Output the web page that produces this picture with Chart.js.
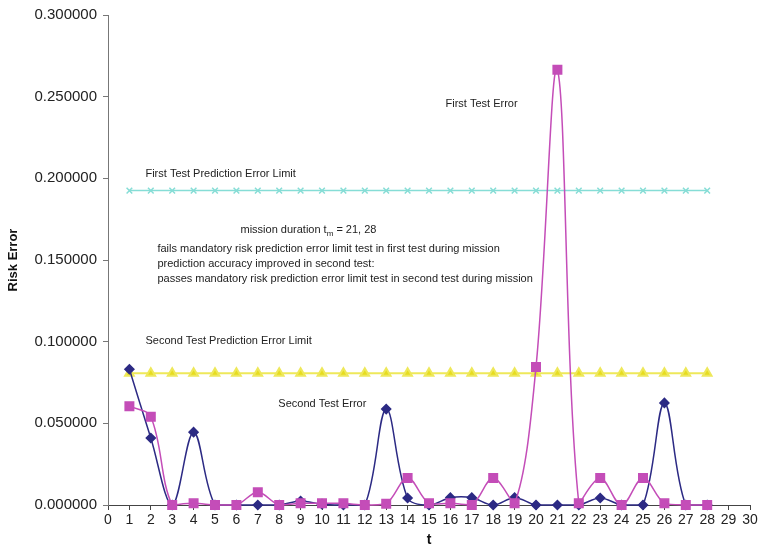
<!DOCTYPE html>
<html>
<head>
<meta charset="utf-8">
<script src="https://cdn.jsdelivr.net/npm/chart.js@4.4.1/dist/chart.umd.min.js"></script>
<style>
  html, body { margin: 0; padding: 0; background: #ffffff; }
  #wrap { width: 760px; height: 550px; }
</style>
</head>
<body>
<div id="wrap"><canvas id="riskChart" width="760" height="550"></canvas></div>
<script>
// time steps t = 1..28
const steps = [1, 2, 3, 4, 5, 6, 7, 8, 9, 10, 11, 12, 13, 14, 15, 16, 17, 18, 19, 20, 21, 22, 23, 24, 25, 26, 27, 28];

const firstTestError = [0.0605, 0.054, 0, 0.001, 0, 0, 0.0078, 0, 0.001, 0.001, 0.001, 0, 0.0008, 0.0165,
  0.001, 0.001, 0, 0.0165, 0.001, 0.0845, 0.2665, 0.001, 0.0165, 0, 0.0165, 0.001, 0, 0];

const secondTestError = [0.0831, 0.041, 0, 0.0446, 0, 0, 0, 0, 0.0024, 0.0005, 0, 0, 0.0587, 0.0043,
  0, 0.0045, 0.0045, 0, 0.0045, 0, 0, 0, 0.0043, 0, 0, 0.0625, 0, 0];

const firstLimit = 0.1925;
const secondLimit = 0.0807;

const yTicks = [0, 0.05, 0.1, 0.15, 0.2, 0.25, 0.3];

// text notes placed in data units (t, risk error)
const notes = [
  { t: 15.77, v: 0.2457, text: "First Test Error" },
  { t: 1.75, v: 0.2027, text: "First Test Prediction Error Limit" },
  { t: 2.31, v: 0.1568, text: "fails mandatory risk prediction error limit test in first test during mission" },
  { t: 2.31, v: 0.1478, text: "prediction accuracy improved in second test:" },
  { t: 2.31, v: 0.1386, text: "passes mandatory risk prediction error limit test in second test during mission" },
  { t: 1.75, v: 0.1004, text: "Second Test Prediction Error Limit" },
  { t: 7.96, v: 0.0621, text: "Second Test Error" }
];

function toPoints(values) {
  return steps.map((t, i) => ({ x: t, y: values[i] }));
}

function flatLine(value) {
  return steps.map((t) => ({ x: t, y: value }));
}

const notesPlugin = {
  id: "notes",
  afterDatasetsDraw(chart) {
    const ctx = chart.ctx;
    const xs = chart.scales.x;
    const ys = chart.scales.y;
    ctx.save();
    ctx.fillStyle = "#222222";
    ctx.font = "11px 'Liberation Sans', Arial, sans-serif";
    ctx.textBaseline = "middle";
    ctx.textAlign = "left";
    notes.forEach((n) => {
      ctx.fillText(n.text, xs.getPixelForValue(n.t), ys.getPixelForValue(n.v));
    });

    // mission duration line with subscript
    let x = xs.getPixelForValue(6.19);
    let y = ys.getPixelForValue(0.1683);
    let part = "mission duration t";
    ctx.fillText(part, x, y);
    x += ctx.measureText(part).width;
    ctx.font = "8px 'Liberation Sans', Arial, sans-serif";
    ctx.fillText("m", x, y + 4);
    x += ctx.measureText("m").width;
    ctx.font = "11px 'Liberation Sans', Arial, sans-serif";
    ctx.fillText(" = 21, 28", x, y);
    ctx.restore();
  }
};

const ctx = document.getElementById("riskChart").getContext("2d");

const chart = new Chart(ctx, {
  type: "line",
  data: {
    datasets: [
      {
        label: "First Test Error",
        data: toPoints(firstTestError),
        borderColor: "#c44db8",
        backgroundColor: "#c44db8",
        borderWidth: 1.5,
        pointStyle: "rect",
        pointRadius: 6,
        tension: 0.35,
        clip: false
      },
      {
        label: "Second Test Error",
        data: toPoints(secondTestError),
        borderColor: "#2c2a84",
        backgroundColor: "#2c2a84",
        borderWidth: 1.5,
        pointStyle: "rectRot",
        pointRadius: 4.5,
        tension: 0.35,
        clip: false
      },
      {
        label: "Second Test Prediction Error Limit",
        data: flatLine(secondLimit),
        borderColor: "#eee85a",
        backgroundColor: "#e6dc20",
        borderWidth: 2,
        pointStyle: "triangle",
        pointRadius: 5,
        tension: 0
      },
      {
        label: "First Test Prediction Error Limit",
        data: flatLine(firstLimit),
        borderColor: "#86ddd6",
        backgroundColor: "#86ddd6",
        borderWidth: 1.5,
        pointStyle: "crossRot",
        pointRadius: 4,
        pointBorderWidth: 1.5,
        tension: 0
      }
    ]
  },
  options: {
    responsive: false,
    animation: false,
    events: [],
    layout: { padding: { top: 14, right: 10, left: 0, bottom: 0 } },
    plugins: {
      legend: { display: false },
      tooltip: { enabled: false }
    },
    scales: {
      x: {
        type: "linear",
        min: 0,
        max: 30,
        afterFit: (scale) => { scale.height = 45; },
        afterBuildTicks: (scale) => {
          const ticks = [];
          for (let i = 0; i <= 30; i++) ticks.push({ value: i });
          scale.ticks = ticks;
        },
        border: { display: true, color: "#444444", width: 1 },
        grid: { drawOnChartArea: false, drawTicks: true, tickLength: 5, color: "#444444" },
        ticks: {
          autoSkip: false,
          maxRotation: 0,
          padding: 2,
          color: "#222222",
          font: { family: "'Liberation Sans', Arial, sans-serif", size: 14 }
        },
        title: {
          display: true,
          text: "t",
          color: "#111111",
          padding: { top: 0, bottom: 1 },
          font: { family: "'Liberation Sans', Arial, sans-serif", size: 14, weight: "bold" }
        }
      },
      y: {
        min: 0,
        max: 0.3,
        afterFit: (scale) => { scale.width = 108; },
        afterBuildTicks: (scale) => {
          scale.ticks = yTicks.map((v) => ({ value: v }));
        },
        border: { display: true, color: "#777777", width: 1 },
        grid: { drawOnChartArea: false, drawTicks: true, tickLength: 5, color: "#777777" },
        ticks: {
          padding: 6,
          color: "#222222",
          font: { family: "'Liberation Sans', Arial, sans-serif", size: 15 },
          callback: (value) => Number(value).toFixed(6)
        },
        title: {
          display: true,
          text: "Risk Error",
          color: "#111111",
          padding: { top: 6, bottom: 0 },
          font: { family: "'Liberation Sans', Arial, sans-serif", size: 13, weight: "bold" }
        }
      }
    }
  },
  plugins: [notesPlugin]
});
</script>
</body>
</html>
